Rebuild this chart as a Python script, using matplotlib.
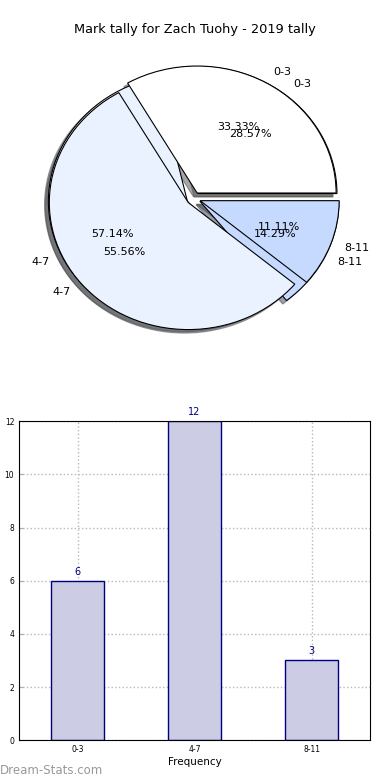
import matplotlib
matplotlib.use('Agg')
import matplotlib.pyplot as plt

# data
categories = ['0-3', '4-7', '8-11']
tally_2019 = [6, 12, 3]
tally_prev = [6, 10, 2]
pie_colors = ['#ffffff', '#ebf2ff', '#c6daff']
explode = [0.05, 0.05, 0.05]

fig = plt.figure(figsize=(3.9, 7.8), dpi=100)
fig.suptitle('Mark tally for Zach Tuohy - 2019 tally', fontsize=9.3, y=0.97)

# pie (two tallies drawn over each other)
ax1 = fig.add_axes([0.051, 0.542, 0.891, 0.407])
ax1.pie(tally_2019, labels=categories, colors=pie_colors, explode=explode,
        autopct='%1.2f%%', shadow=True, labeldistance=1.1,
        wedgeprops={'edgecolor': 'black', 'linewidth': 0.8},
        textprops={'fontsize': 8})
ax1.pie(tally_prev, labels=categories, colors=pie_colors, explode=explode,
        autopct='%1.2f%%', shadow=True, labeldistance=1.1,
        wedgeprops={'edgecolor': 'black', 'linewidth': 0.8},
        textprops={'fontsize': 8})
ax1.set_aspect('auto')
ax1.set_xlim(-1.25, 1.25)
ax1.set_ylim(-1.25, 1.25)

# bar chart
ax2 = fig.add_axes([0.049, 0.051, 0.9, 0.409])
x = range(len(categories))
ax2.bar(x, tally_2019, width=0.45, color='#cccce5', edgecolor='navy', linewidth=1, zorder=2)
for i, v in enumerate(tally_2019):
    ax2.text(i, v + 0.15, str(v), ha='center', va='bottom', color='navy', fontsize=7)
ax2.set_xlim(-0.5, 2.5)
ax2.set_ylim(0, 12)
ax2.set_xticks(list(x))
ax2.set_xticklabels(categories)
ax2.set_yticks(range(0, 13, 2))
ax2.tick_params(direction='in', labelsize=5.5, length=3, color='#aaaaaa')
ax2.grid(True, linestyle=':', color='#b8b8b8', linewidth=1, zorder=0)
ax2.set_axisbelow(True)
ax2.set_xlabel('Frequency', fontsize=7.5, labelpad=2)
ax2.set_ylabel('Occurrences', fontsize=7.5)
ax2.yaxis.set_label_coords(-0.048, 0.5)

fig.text(0.0, 0.004, 'Dream-Stats.com', fontsize=8.5, color='#999999', ha='left', va='bottom')

fig.savefig('out.png', dpi=100)
